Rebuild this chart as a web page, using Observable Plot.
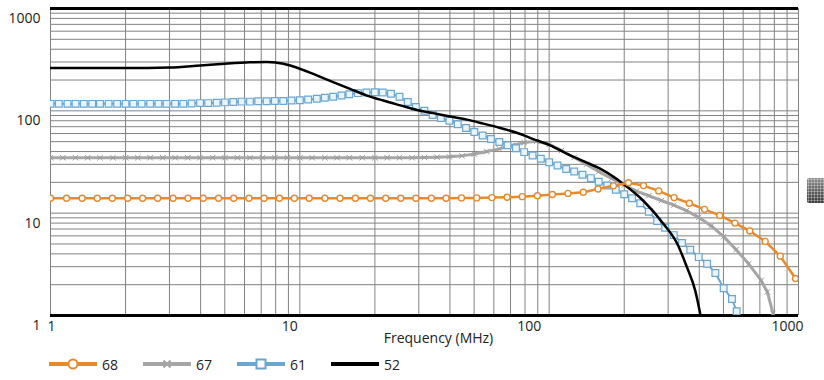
<!DOCTYPE html>
<html>
<head>
<meta charset="utf-8">
<script src="https://cdn.jsdelivr.net/npm/d3@7"></script>
<script src="https://cdn.jsdelivr.net/npm/@observablehq/plot@0.6"></script>
<style>
  html, body { margin: 0; padding: 0; background: #fff; }
  body { width: 824px; height: 380px; position: relative; overflow: hidden; font-family: "Open Sans", sans-serif; color: #222; }
  #legend { position: absolute; left: 49px; top: 354px; height: 20px; display: flex; align-items: center; font-size: 14px; }
  .item { display: flex; align-items: center; width: 94px; }
  .item span { margin-left: 5px; }
  #widget { position: absolute; left: 807px; top: 178px; width: 17px; height: 25px;
    background: radial-gradient(circle, rgba(255,255,255,0.55) 0.8px, transparent 1.2px) 3px 3px / 3px 3px,
                linear-gradient(to bottom, #8c8c8c, #3a3a3a); border-radius: 2px 0 0 2px; }
</style>
</head>
<body>
<div id="chart"></div>
<div id="legend"></div>
<div id="widget"></div>
<script>
// ---- data ----
const seriesNames = ["68", "67", "61", "52"];
const seriesColors = ["#E8892C", "#A6A6A6", "#6BA6D1", "#000000"];

const freq68 = [1,1.16,1.34,1.54,1.77,2.04,2.34,2.69,3.1,3.56,4.1,4.72,5.43,6.25,7.19,8.28,9.51,10.9,12.6,14.5,16.7,19.2,22.1,25.4,29.2,33.7,38.6,44.5,51.2,58.9,67.8,78,89.7,103,119,137,157,181,208,239,275,317,365,420,483,556,638,735,845,973];
const val68 = [14,14,14,14,14,14,14,14,14,14,14,14,14,14,14,14,14,14,14,14,14,14,14,14,14,14,14,14.1,14.1,14.2,14.3,14.5,14.8,15.2,15.6,16,17.2,18.5,19.8,18.6,16.5,14.2,12.5,10.9,9.5,8,6.7,5.3,3.8,2.3];

const freq67 = [1,1.12,1.26,1.41,1.58,1.78,2,2.24,2.51,2.82,3.16,3.55,3.98,4.47,5.01,5.62,6.31,7.08,7.94,8.91,10,11.2,12.6,14.1,15.8,17.8,20,22.4,25.1,28.2,31.6,35.5,39.8,44.7,50.1,56.2,63.1,70.8,79.4,89.1,100,112,126,141,158,178,200,224,251,282,316,355,398,447,501,562,631,708,750,790,805];
const val67 = [34.8,34.8,34.8,34.8,34.8,34.8,34.8,34.8,34.8,34.8,34.8,34.8,34.8,34.8,34.8,34.8,34.8,34.8,34.8,34.8,34.8,34.8,34.8,34.8,34.8,34.8,34.8,34.8,34.8,34.8,35,35.2,35.5,36.3,37.8,40,42.5,46,49,50.3,47,41,35,30,25.5,21.8,18.8,16.4,14.8,13.3,12,10.6,9.1,7.5,5.9,4.4,3.2,2.2,1.7,1.05,0.8];

const freq61 = [1,1.08,1.17,1.26,1.36,1.47,1.58,1.71,1.85,2,2.15,2.32,2.51,2.71,2.92,3.16,3.41,3.68,3.98,4.29,4.64,5.01,5.41,5.84,6.31,6.81,7.36,7.94,8.58,9.26,10,10.8,11.7,12.6,13.6,14.7,15.8,17.1,18.5,20,21.5,23.2,25.1,27.1,29.2,31.6,34.1,36.8,39.8,43,46.4,50.1,54.1,58.4,63.1,68.1,73.6,79.4,85.8,92.6,100,108,117,126,136,147,158,171,185,200,215,232,251,271,292,316,341,368,398,430,464,501,541,565];
const val61 = [117,117,117,117,117,117,117,117,117,117,117,117,117,117,117,117,117,118,119,119,120,121,122,123,123,124,124,125,125,126,127,129,131,134,137,141,145,149,151,152,151,147,137,122,109,100,91,85,80,74,68,62,57.5,53,49.5,46,43,39.5,36.6,34,31.5,29.2,27,25.5,23.7,22,20.3,18.6,16.9,15.3,14,12.5,10.3,8.4,7.2,6.1,5.1,4.4,3.72,3.2,2.6,1.85,1.45,1.1];

const freq52 = [1,2,3,4,5,6.3,7.4,8.6,10,11.7,13.6,15.9,18.6,21.6,25.3,29.5,34.3,40.1,46.8,54.4,63.6,74.2,86.3,101,118,138,160,198,238,287,326,357,385,403,415];
const val52 = [262,262,265,278,289,298,300,289,258,222,191,164,141,126,113,102,95,88,82,75,68,61,53,46,38,32,27.2,19.4,13.3,7.9,5.06,2.96,1.76,1.05,0.7];

const gridValues = [1,2,3,4,5,6,7,8,9,10,20,30,40,50,60,70,80,90,100,200,300,400,500,600,700,800,900,1000];
const xTicks = [1, 10, 100, 1000];
const yTicks = [1, 10, 100, 1000];
const xLabel = "Frequency (MHz)";

// ---- build ----
const rows = (fs, vs) => fs.map((f, i) => ({f, v: vs[i]}));
const d68 = rows(freq68, val68);
const d67 = rows(freq67, val67);
const d61 = rows(freq61, val61);
const d52 = rows(freq52, val52);

const gridColor = "#828282";
const font = "'Open Sans', sans-serif";

const chart = Plot.plot({
  width: 824,
  height: 350,
  marginLeft: 50,
  marginRight: 26,
  marginTop: 8,
  marginBottom: 35,
  x: {type: "log", domain: [1, 1000], axis: null},
  y: {type: "log", domain: [1, 1000], axis: null},
  style: {fontFamily: font, fontSize: "14px", color: "#222", background: "#fff", overflow: "visible"},
  marks: [
    Plot.ruleY(gridValues, {y: d => d, stroke: gridColor, strokeWidth: 1}),
    Plot.ruleX(gridValues, {x: d => d, stroke: gridColor, strokeWidth: 1}),
    Plot.ruleY([1000], {y: d => d, stroke: "#000", strokeWidth: 3}),
    Plot.ruleY([1], {y: d => d, stroke: "#000", strokeWidth: 3}),

    // 67 gray
    Plot.line(d67, {x: "f", y: "v", stroke: seriesColors[1], strokeWidth: 3, clip: true}),
    Plot.dot(d67, {x: "f", y: "v", symbol: "times", r: 2.6, stroke: "#9a9a9a", strokeWidth: 1, clip: true}),
    // 61 blue
    Plot.line(d61, {x: "f", y: "v", stroke: seriesColors[2], strokeWidth: 2, clip: true}),
    Plot.dot(d61, {x: "f", y: "v", symbol: "square", r: 3.8, fill: "#eaf5fb", stroke: seriesColors[2], strokeWidth: 1.2, clip: true}),
    // 52 black
    Plot.line(d52, {x: "f", y: "v", stroke: seriesColors[3], strokeWidth: 2.5, curve: "monotone-x", clip: true}),
    // 68 orange
    Plot.line(d68, {x: "f", y: "v", stroke: seriesColors[0], strokeWidth: 2.5, clip: true}),
    Plot.dot(d68, {x: "f", y: "v", r: 3, fill: "#fff", stroke: seriesColors[0], strokeWidth: 1.4, clip: true}),

    // tick labels (x): first label sits on its gridline, others slightly left of it
    Plot.text(xTicks.slice(0, 1), {x: d => d, text: d => String(d), frameAnchor: "bottom", dy: 11, dx: 1, lineAnchor: "middle", fill: "#222", fontSize: 14}),
    Plot.text(xTicks.slice(1, 2), {x: d => d, text: d => String(d), frameAnchor: "bottom", dy: 11, dx: -10, lineAnchor: "middle", fill: "#222", fontSize: 14}),
    Plot.text(xTicks.slice(2, 3), {x: d => d, text: d => String(d), frameAnchor: "bottom", dy: 11, dx: -20, lineAnchor: "middle", fill: "#222", fontSize: 14}),
    Plot.text(xTicks.slice(3), {x: d => d, text: d => String(d), frameAnchor: "bottom", dy: 11, dx: -11, lineAnchor: "middle", fill: "#222", fontSize: 14}),
    // tick labels (y)
    Plot.text(yTicks, {y: d => d, text: d => String(d), frameAnchor: "left", dx: -10, dy: 10, textAnchor: "end", lineAnchor: "middle", fill: "#222", fontSize: 14}),
    Plot.text([xLabel], {text: d => d, frameAnchor: "bottom", dx: 14, dy: 23, lineAnchor: "middle", fill: "#222", fontSize: 14})
  ]
});
document.getElementById("chart").appendChild(chart);

// ---- legend ----
const markerFor = (i, c) => {
  if (i === 0) return `<circle cx="24" cy="7" r="4.5" fill="#fff" stroke="${c}" stroke-width="2"/>`;
  if (i === 1) return `<path d="M20.5 3.5 L27.5 10.5 M27.5 3.5 L20.5 10.5" stroke="${c}" stroke-width="2"/>`;
  if (i === 2) return `<rect x="19.5" y="2.5" width="9" height="9" fill="#fff" stroke="${c}" stroke-width="2"/>`;
  return "";
};
const legend = document.getElementById("legend");
seriesNames.forEach((name, i) => {
  const c = seriesColors[i];
  const item = document.createElement("div");
  item.className = "item";
  item.innerHTML = `<svg width="48" height="14"><line x1="0" x2="48" y1="7" y2="7" stroke="${c}" stroke-width="4"/>${markerFor(i, c)}</svg><span>${name}</span>`;
  legend.appendChild(item);
});
</script>
</body>
</html>
